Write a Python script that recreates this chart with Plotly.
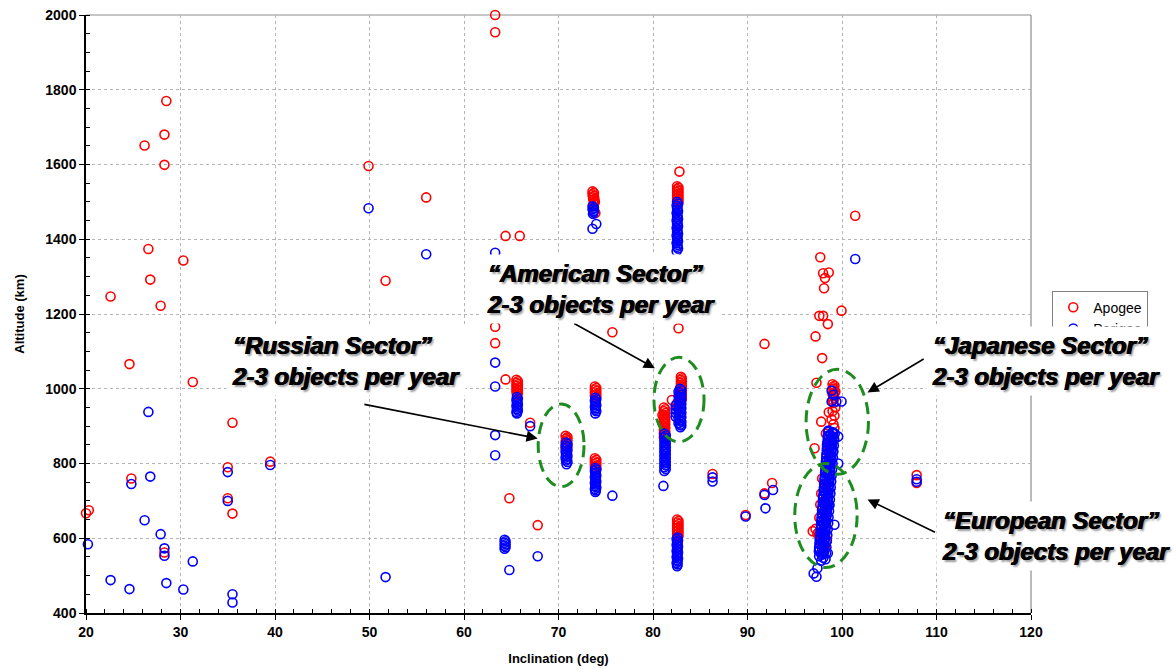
import plotly.graph_objects as go

# ---------------- data ----------------
# Apogee, isolated objects
apo_sparse_inc = [20.0, 20.3, 22.6, 24.6, 24.8, 26.2, 26.6, 26.8, 27.9, 28.3, 28.3, 28.5, 28.3, 30.3, 31.3,
                  35.0, 35.0, 35.5, 35.5, 39.5, 49.9, 51.7, 56.0, 63.3, 63.3, 63.3, 63.3, 64.4, 64.4, 65.9,
                  64.8, 67.8, 67.0, 75.7, 86.3, 89.8, 91.8, 91.8, 92.6, 107.9, 107.9]
apo_sparse_alt = [667, 675, 1247, 1066, 760, 1651, 1374, 1292, 1222, 1680, 1599, 1770, 562, 1343, 1018,
                  790, 707, 666, 909, 805, 1596, 1289, 1512, 2000, 1954, 1166, 1122, 1025, 1409, 1409,
                  707, 635, 909, 1151, 772, 662, 1120, 720, 748, 769, 748]
# Apogee, 65-66 deg group
apo_656_inc = [65.55, 65.7, 65.55, 65.7, 65.55, 65.7, 65.55, 65.7, 65.55, 65.7, 65.6]
apo_656_alt = [1024, 1020, 1016, 1012, 1008, 1004, 1000, 996, 992, 988, 984]
# Apogee, Russian sector
apo_rus_inc = [70.75, 70.95, 70.8, 70.95, 70.75, 70.9, 70.8, 70.95, 70.75]
apo_rus_alt = [874, 870, 866, 862, 858, 854, 850, 846, 842]
# Apogee, 74 deg groups
apo_74_inc = [73.6, 73.75, 73.6, 73.75, 73.65, 73.8, 73.7, 73.85, 73.75, 73.9,
              73.85, 74.0, 73.85, 74.0, 73.85, 74.0, 73.85, 74.0,
              73.85, 74.0, 73.85, 74.0, 73.85, 74.0, 73.85, 74.0]
apo_74_alt = [1528, 1524, 1520, 1516, 1512, 1508, 1504, 1500, 1496, 1470,
              1006, 1002, 998, 994, 990, 986, 982, 978,
              814, 810, 806, 802, 798, 794, 790, 786]
# Apogee, 81 deg group
apo_81_inc = [81.15, 81.3, 81.15, 81.3, 81.15, 81.3, 81.15, 81.3, 81.15, 81.3, 81.15, 81.3, 81.15, 81.3,
              81.15, 81.3, 81.15, 81.0]
apo_81_alt = [950, 945, 940, 935, 930, 925, 920, 915, 910, 905, 900, 895, 890, 885, 880, 875, 870, 930]
# Apogee, 82.5-83 deg groups (upper, American sector, lower)
apo_82_inc = [82.8, 82.55, 82.7, 82.55, 82.7, 82.55, 82.7, 82.55, 82.7, 82.55, 82.7, 82.55, 82.7, 82.7,
              82.95, 83.05, 82.95, 83.05, 82.95, 83.05, 82.95, 83.05, 82.95, 83.05, 82.95, 83.05, 82.95,
              83.05, 82.95, 83.05, 82.95, 82.5, 82.6, 82.0,
              82.55, 82.7, 82.55, 82.7, 82.55, 82.7, 82.55, 82.7, 82.55, 82.7, 82.55, 82.7]
apo_82_alt = [1581, 1542, 1538, 1534, 1530, 1526, 1522, 1518, 1514, 1510, 1506, 1502, 1498, 1162,
              1032, 1028, 1024, 1020, 1016, 1012, 1008, 1004, 1000, 996, 992, 988, 984,
              980, 976, 972, 968, 960, 950, 970,
              650, 646, 642, 638, 634, 630, 626, 622, 618, 614, 610, 606]
# Apogee, 97-101 deg (Japanese / European sectors)
apo_98_inc = [97.7, 98.0, 98.6, 98.2, 98.1, 99.95, 97.6, 98.0, 98.5, 97.2, 97.9, 97.3, 101.4,
              99.0, 99.2, 99.1, 99.3, 99.0, 99.2, 99.1, 99.3, 99.0, 99.2, 98.9, 99.1, 99.2,
              99.05, 99.15, 99.05, 99.15, 99.05,
              97.8, 98.6, 97.1, 98.3, 98.8, 98.4,
              97.9, 98.3, 97.8, 98.2, 97.7, 98.1, 97.6, 98.0, 97.2, 97.5, 97.9, 98.4, 97.7, 98.2,
              98.0, 96.9, 97.4]
apo_98_alt = [1352, 1309, 1311, 1296, 1269, 1209, 1195, 1195, 1173, 1140, 1082, 1016, 1463,
              1012, 1008, 1000, 992, 985, 975, 962, 950, 940, 928, 918, 905, 895,
              1004, 996, 988, 980, 970,
              912, 937, 841, 880, 860, 850,
              760, 740, 720, 700, 690, 670, 655, 645, 625, 615, 605, 595, 590, 575,
              560, 619, 612]

# Perigee, isolated objects
per_sparse_inc = [19.9, 20.2, 22.6, 24.6, 24.8, 26.2, 26.6, 26.8, 27.9, 28.3, 28.3, 28.5, 30.3, 31.3,
                  35.0, 35.0, 35.5, 35.5, 39.5, 49.9, 51.7, 56.0, 63.3, 63.3, 63.3, 63.3, 63.3, 67.0,
                  67.8, 64.8, 75.7, 86.3, 86.3, 89.8, 91.8, 92.7, 91.9, 101.4, 107.9, 107.9]
per_sparse_alt = [599, 584, 488, 464, 745, 648, 938, 765, 611, 573, 553, 480, 463, 538,
                  777, 700, 450, 428, 796, 1483, 496, 1360, 1364, 1070, 1006, 876, 822, 900,
                  552, 515, 714, 763, 752, 658, 716, 729, 680, 1347, 758, 751]
# Perigee, 64-66 deg groups
per_65_inc = [64.3, 64.4, 64.3, 64.4, 64.3, 64.4, 64.3,
              65.6, 65.7, 65.55, 65.65, 65.6, 65.7, 65.55, 65.65, 65.6, 65.7, 65.55, 65.6]
per_65_alt = [596, 592, 588, 584, 580, 576, 572,
              978, 974, 970, 966, 962, 958, 954, 950, 946, 942, 938, 934]
# Perigee, Russian sector
per_rus_inc = [70.8, 70.95, 70.75, 70.9, 70.8, 70.95, 70.75, 70.9, 70.8, 70.95, 70.75, 70.9, 70.8,
               70.95, 70.85]
per_rus_alt = [856, 852, 848, 844, 840, 836, 832, 828, 824, 820, 816, 812, 808, 804, 798]
# Perigee, 74 deg groups
per_74_inc = [73.6, 73.75, 73.6, 73.75, 73.7, 73.65, 74.0, 73.6,
              73.9, 74.0, 73.85, 73.95, 73.9, 74.0, 73.85, 73.95, 73.9, 74.0, 73.9,
              73.9, 74.0, 73.85, 73.95, 73.9, 74.0, 73.85, 73.95, 73.9, 74.0, 73.85, 73.95,
              73.9, 74.0, 73.85, 73.95, 73.9]
per_74_alt = [1488, 1484, 1480, 1476, 1472, 1468, 1441, 1428,
              976, 972, 968, 964, 960, 956, 952, 948, 944, 940, 934,
              788, 784, 780, 776, 772, 768, 764, 760, 756, 752, 748, 744,
              740, 736, 732, 728, 724]
# Perigee, 81 deg group
per_81_inc = [81.2, 81.35, 81.2, 81.35, 81.2, 81.35, 81.2, 81.35, 81.2, 81.35, 81.2, 81.35, 81.2, 81.35,
              81.2, 81.35, 81.2, 81.35, 81.2, 81.35, 81.2, 81.1]
per_81_alt = [880, 875, 870, 865, 860, 855, 850, 845, 840, 835, 830, 825, 820, 815,
              810, 805, 800, 795, 790, 785, 780, 740]
# Perigee, 82.5-83 deg groups (upper, American sector, lower)
per_82_inc = [82.55, 82.65, 82.5, 82.6, 82.55, 82.65, 82.5, 82.6, 82.55, 82.65, 82.5, 82.6, 82.55, 82.65,
              82.5, 82.6, 82.55, 82.65, 82.5, 82.6, 82.55, 82.65, 82.5, 82.6, 82.55, 82.65, 82.5,
              82.85, 83.0, 82.7, 82.85, 83.0, 82.7, 82.85, 83.0, 82.7, 82.85, 83.0, 82.7, 82.85, 83.0,
              82.7, 82.85, 83.0, 82.7, 82.85, 83.0, 82.7, 82.85, 83.0, 82.7, 82.85, 82.4, 82.4, 82.4,
              82.4, 82.9, 83.0,
              82.6, 82.5, 82.65, 82.55, 82.6, 82.5, 82.65, 82.55, 82.6, 82.5, 82.65, 82.55, 82.6, 82.5,
              82.65, 82.55, 82.6, 82.5, 82.6, 82.55]
per_82_alt = [1500, 1495, 1490, 1485, 1480, 1475, 1470, 1465, 1460, 1455, 1450, 1445, 1440, 1435,
              1430, 1425, 1420, 1415, 1410, 1405, 1400, 1395, 1390, 1385, 1380, 1375, 1368,
              1000, 996, 992, 988, 984, 980, 976, 972, 968, 964, 960, 956, 952, 948,
              944, 940, 936, 932, 928, 924, 920, 916, 912, 908, 904, 955, 945, 935,
              925, 897, 902,
              602, 598, 594, 590, 586, 582, 578, 574, 570, 566, 562, 558, 554, 550,
              546, 542, 538, 534, 530, 525]
# Perigee, 97-101 deg (Japanese / European sectors): outliers and the dense band
per_98_inc = [98.9, 99.1, 98.9, 99.4, 99.95, 99.6, 99.6, 99.2, 97.0, 97.3, 97.4, 98.5, 98.6,
              98.55, 98.99, 99.23, 98.77, 98.50, 98.94, 99.18, 98.72, 98.46, 98.90, 99.14, 98.67,
              98.41, 98.85, 99.09, 98.63, 98.37, 98.80, 99.04, 98.58, 98.32, 98.76, 99.00, 98.54,
              98.27, 98.71, 98.95, 98.49, 98.23, 98.67, 98.90, 98.44, 98.18, 98.62, 98.86, 98.40,
              98.14, 98.57, 98.81, 98.35, 98.09, 98.53, 98.77, 98.31, 98.04, 98.48, 98.72, 98.26,
              98.00, 98.44, 98.68, 98.21, 97.95, 98.39, 98.63, 98.17, 97.91, 98.34, 98.58, 98.12,
              97.86, 98.30, 98.54, 98.08, 97.81, 98.25, 98.49, 98.03, 97.77, 98.21, 98.45, 97.98,
              97.72, 98.16, 98.40, 97.94, 97.68, 98.11, 98.35, 97.89, 97.63, 98.07, 98.31, 97.85,
              97.58, 98.02, 98.26, 97.80,
              98.55, 99.05, 98.52, 99.02, 98.49, 98.99, 98.46, 98.96, 98.43, 98.93,
              98.39, 98.89, 98.36, 98.86, 98.33, 98.83, 98.30, 98.80, 98.27, 98.77,
              98.24, 98.74, 98.21, 98.71, 98.18, 98.68, 98.14, 98.64, 98.11, 98.61,
              98.08, 98.58, 98.05, 98.55, 98.02, 98.52, 97.99, 98.49, 97.96, 98.46,
              97.93, 98.43, 97.89, 98.39, 97.86, 98.36, 97.83, 98.33, 97.80, 98.30,
              97.77, 98.27, 97.74, 98.24, 97.71, 98.21, 97.68, 98.18, 97.64, 98.14,
              97.61, 98.11, 97.58, 98.08, 97.55, 98.05]
per_98_alt = [995, 984, 966, 966, 966, 872, 800, 636, 506, 497, 520, 560, 690,
              888, 884, 880, 876, 872, 868, 864, 860, 856, 852, 848, 844,
              840, 836, 832, 828, 824, 820, 816, 812, 808, 804, 800, 796,
              792, 788, 784, 780, 776, 772, 768, 764, 760, 756, 752, 748,
              744, 740, 736, 732, 728, 724, 720, 716, 712, 708, 704, 700,
              696, 692, 688, 684, 680, 676, 672, 668, 664, 660, 656, 652,
              648, 644, 640, 636, 632, 628, 624, 620, 616, 612, 608, 604,
              600, 596, 592, 588, 584, 580, 576, 572, 568, 564, 560, 556,
              552, 548, 544, 540,
              885, 880, 875, 870, 865, 860, 855, 850, 845, 840,
              835, 830, 825, 820, 815, 810, 805, 800, 795, 790,
              785, 780, 775, 770, 765, 760, 755, 750, 745, 740,
              735, 730, 725, 720, 715, 710, 705, 700, 695, 690,
              685, 680, 675, 670, 665, 660, 655, 650, 645, 640,
              635, 630, 625, 620, 615, 610, 605, 600, 595, 590,
              585, 580, 575, 570, 565, 560]

apogee_inc = apo_sparse_inc + apo_656_inc + apo_rus_inc + apo_74_inc + apo_81_inc + apo_82_inc + apo_98_inc
apogee_alt = apo_sparse_alt + apo_656_alt + apo_rus_alt + apo_74_alt + apo_81_alt + apo_82_alt + apo_98_alt
perigee_inc = per_sparse_inc + per_65_inc + per_rus_inc + per_74_inc + per_81_inc + per_82_inc + per_98_inc
perigee_alt = per_sparse_alt + per_65_alt + per_rus_alt + per_74_alt + per_81_alt + per_82_alt + per_98_alt

x_ticks = [20, 30, 40, 50, 60, 70, 80, 90, 100, 110, 120]
y_ticks = [400, 600, 800, 1000, 1200, 1400, 1600, 1800, 2000]

sector_labels = [
    "\u201cRussian Sector\u201d<br>2-3 objects per year",
    "\u201cAmerican Sector\u201d<br>2-3 objects per year",
    "\u201cJapanese Sector\u201d<br>2-3 objects per year",
    "\u201cEuropean Sector\u201d<br>2-3 objects per year",
]
label_x = [34.8, 61.8, 108.9, 109.9]
label_y = [1074, 1267, 1074, 606]
arrow_tail_x = [49.3, 71.5, 108.8, 110.0]
arrow_tail_y = [959, 1177, 1082, 614]
arrow_head_x = [67.8, 80.2, 102.7, 102.7]
arrow_head_y = [867, 1055, 990, 704]
ellipse_x0 = [67.85, 80.1, 96.2, 95.0]
ellipse_x1 = [72.7, 85.4, 102.8, 101.6]
ellipse_y0 = [738, 858, 771, 522]
ellipse_y1 = [959, 1084, 1052, 800]

# ---------------- figure ----------------
fig = go.Figure()
fig.add_trace(go.Scatter(
    x=apogee_inc, y=apogee_alt, mode="markers", name="Apogee", cliponaxis=False,
    marker=dict(symbol="circle-open", size=9, color="#ff0000", line=dict(width=1.6, color="#ff0000")),
))
fig.add_trace(go.Scatter(
    x=perigee_inc, y=perigee_alt, mode="markers", name="Perigee", cliponaxis=False,
    marker=dict(symbol="circle-open", size=9, color="#0000ff", line=dict(width=1.6, color="#0000ff")),
))

shapes = []
for i in range(len(ellipse_x0)):
    shapes.append(dict(type="circle", xref="x", yref="y",
                       x0=ellipse_x0[i], x1=ellipse_x1[i], y0=ellipse_y0[i], y1=ellipse_y1[i],
                       line=dict(color="#1e8c1e", width=3, dash="12px,7px"), layer="above"))
# grey top and right frame
shapes.append(dict(type="line", xref="paper", yref="paper", x0=0, x1=1, y0=1, y1=1,
                   line=dict(color="#8c8c8c", width=1.2), layer="below"))
shapes.append(dict(type="line", xref="paper", yref="paper", x0=1, x1=1, y0=0, y1=1,
                   line=dict(color="#8c8c8c", width=1.2), layer="below"))

text_font = dict(family="Liberation Sans, Arial, sans-serif", size=24, color="black",
                 weight="bold", style="italic",
                 shadow="0.7px 0 0 #000, -0.4px 0 0 #000, 2px 2px 2px #9a9a9a")
annotations = []
for i in range(len(sector_labels)):
    annotations.append(dict(
        x=arrow_head_x[i], y=arrow_head_y[i], ax=arrow_tail_x[i], ay=arrow_tail_y[i],
        xref="x", yref="y", axref="x", ayref="y", text="", showarrow=True,
        arrowhead=2, arrowsize=1.4, arrowwidth=1.6, arrowcolor="black", standoff=0,
    ))
for i in range(len(sector_labels)):
    annotations.append(dict(
        x=label_x[i], y=label_y[i], xref="x", yref="y", text=sector_labels[i],
        showarrow=False, xanchor="left", yanchor="middle", align="left",
        bgcolor="white", borderpad=5, font=text_font,
    ))

tick_font = dict(family="Liberation Sans, Arial, sans-serif", size=14, color="black", weight="bold")
title_font = dict(family="Liberation Sans, Arial, sans-serif", size=13, color="black", weight="bold")

fig.update_layout(
    width=1176, height=669,
    margin=dict(l=86, r=145, t=15, b=56, autoexpand=False),
    plot_bgcolor="white", paper_bgcolor="white",
    shapes=shapes, annotations=annotations,
    showlegend=True,
    legend=dict(x=1.0225, y=0.539, xanchor="left", yanchor="top",
                bgcolor="white", bordercolor="#808080", borderwidth=1,
                font=dict(family="Liberation Sans, Arial, sans-serif", size=14, color="black"),
                itemwidth=30, tracegroupgap=0),
    xaxis=dict(
        range=[20, 120], tickvals=x_ticks, ticktext=[str(v) for v in x_ticks],
        automargin=False,
        showgrid=True, gridcolor="#b4b4b4", griddash="3px,3px", gridwidth=1,
        showline=True, linecolor="black", linewidth=1.5, zeroline=False,
        ticks="outside", ticklen=5, tickcolor="black", tickwidth=1,
        minor=dict(dtick=2, ticks="inside", ticklen=4, tickcolor="black", showgrid=False),
        tickfont=tick_font,
        title=dict(text="Inclination (deg)", font=title_font, standoff=15),
    ),
    yaxis=dict(
        range=[400, 2000], tickvals=y_ticks, ticktext=[str(v) for v in y_ticks],
        automargin=False,
        showgrid=True, gridcolor="#b4b4b4", griddash="3px,3px", gridwidth=1,
        showline=True, linecolor="black", linewidth=1.5, zeroline=False,
        ticks="outside", ticklen=5, tickcolor="black", tickwidth=1,
        minor=dict(dtick=50, ticks="inside", ticklen=4, tickcolor="black", showgrid=False),
        tickfont=tick_font,
        title=dict(text="Altitude (km)", font=title_font, standoff=18),
    ),
)

fig.write_html("out.html", config={"displayModeBar": False},
               post_script="document.body.style.margin='0';document.body.style.padding='0';")
